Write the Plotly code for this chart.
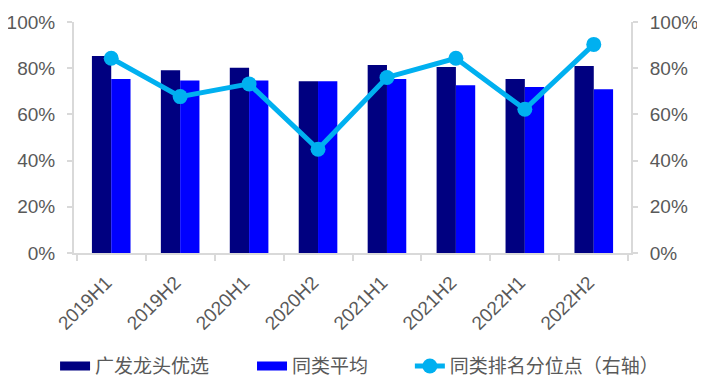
import plotly.graph_objects as go

categories = ["2019H1", "2019H2", "2020H1", "2020H2", "2021H1", "2021H2", "2022H1", "2022H2"]
fund_values = [0.853, 0.791, 0.802, 0.743, 0.814, 0.805, 0.753, 0.810]
peer_avg = [0.753, 0.747, 0.747, 0.743, 0.753, 0.726, 0.719, 0.709]
rank_pct = [0.843, 0.677, 0.732, 0.449, 0.760, 0.843, 0.622, 0.903]

names = ["广发龙头优选", "同类平均", "同类排名分位点（右轴）"]
colors = ["#000080", "#0000FF", "#00B0F0"]

font_family = "Liberation Sans, Arial, Noto Sans CJK SC, sans-serif"
gray = "#595959"
axis_gray = "#D9D9D9"
legend_font = dict(family="Noto Sans CJK SC, sans-serif", size=19, color=gray)

fig = go.Figure()
fig.add_trace(go.Bar(x=categories, y=fund_values, name=names[0], showlegend=False,
                     marker=dict(color=colors[0], line=dict(width=0))))
fig.add_trace(go.Bar(x=categories, y=peer_avg, name=names[1], showlegend=False,
                     marker=dict(color=colors[1], line=dict(width=0))))
# legend-only swatches (wide rectangles like the original legend)
fig.add_trace(go.Scatter(x=[None], y=[None], name=names[0], mode="lines", legend="legend",
                         line=dict(color=colors[0], width=9)))
fig.add_trace(go.Scatter(x=[None], y=[None], name=names[1], mode="lines", legend="legend2",
                         line=dict(color=colors[1], width=9)))
fig.add_trace(go.Scatter(x=categories, y=rank_pct, name=names[2], yaxis="y2", mode="lines+markers",
                         legend="legend3",
                         line=dict(color=colors[2], width=5), marker=dict(color=colors[2], size=15)))

leg_common = dict(orientation="h", y=-0.49, yanchor="middle", xanchor="left", font=legend_font,
                  itemwidth=30, bgcolor="rgba(0,0,0,0)")

fig.update_layout(
    width=705, height=387,
    margin=dict(l=66, r=82, t=14, b=142, autoexpand=False),
    paper_bgcolor="white", plot_bgcolor="white",
    barmode="group", bargap=0.44, bargroupgap=0,
    font=dict(family=font_family, color=gray, size=15),
    showlegend=True,
    legend=dict(x=-0.034, **leg_common),
    legend2=dict(x=0.3196, **leg_common),
    legend3=dict(x=0.603, **leg_common),
    xaxis=dict(showline=True, linecolor=axis_gray, linewidth=2, ticks="outside", tickcolor=axis_gray,
               ticklen=6, tickwidth=2, tickangle=-45, tickson="boundaries", showgrid=False,
               ticklabelstandoff=9, ticklabelshift=-5,
               automargin=False, tickfont=dict(size=19, color=gray)),
    yaxis=dict(range=[0, 1], dtick=0.2, tickformat=".0%", showline=True, linecolor=axis_gray, linewidth=2,
               ticks="outside", tickcolor=axis_gray, ticklen=5, tickwidth=2, showgrid=False, zeroline=False,
               ticklabelstandoff=8,
               automargin=False, tickfont=dict(size=19, color=gray)),
    yaxis2=dict(range=[0, 1], dtick=0.2, tickformat=".0%", overlaying="y", side="right", showline=True,
                linecolor=axis_gray, linewidth=2, ticks="outside", tickcolor=axis_gray, ticklen=5, tickwidth=2,
                showgrid=False, zeroline=False, ticklabelstandoff=8,
                automargin=False, tickfont=dict(size=19, color=gray)),
)

fig.write_html("out.html")
